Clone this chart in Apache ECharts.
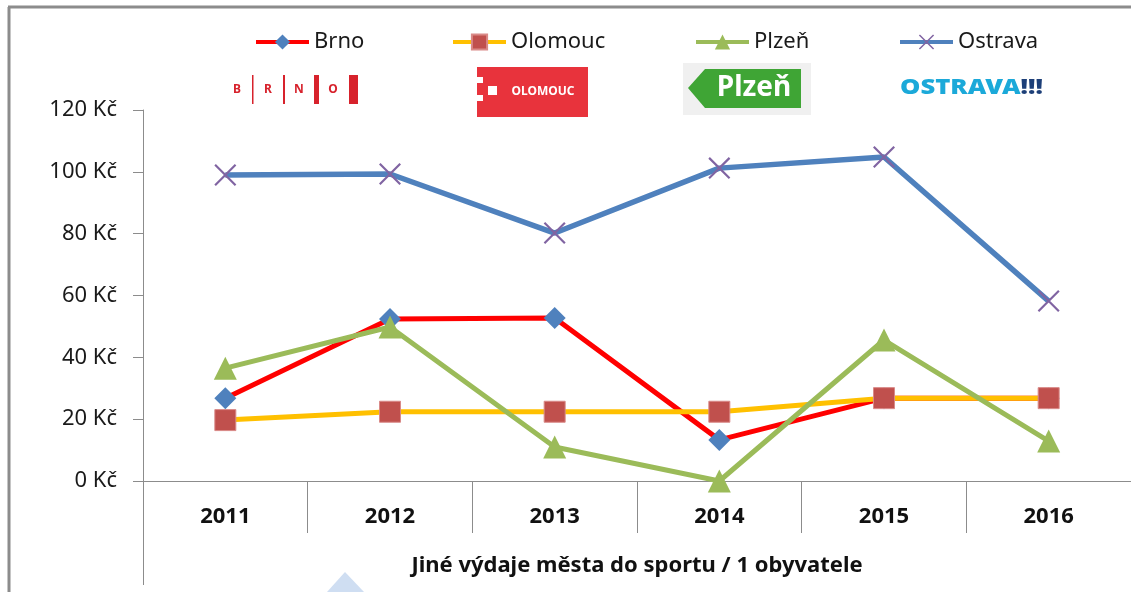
<!DOCTYPE html>
<html>
<head>
<meta charset="utf-8">
<script src="https://cdn.jsdelivr.net/npm/echarts@6/dist/echarts.min.js"></script>
<style>
  html, body { margin: 0; padding: 0; background: #fff; }
  #chart { width: 1131px; height: 592px; }
</style>
</head>
<body>
<div id="chart"></div>
<script>
  // data (Kč per inhabitant)
  var years = ['2011', '2012', '2013', '2014', '2015', '2016'];
  var brno = [26.8, 52.4, 52.7, 13.3, 26.8, 26.8];
  var olomouc = [19.7, 22.4, 22.4, 22.4, 26.8, 26.8];
  var plzen = [36.5, 49.8, 11.0, 0, 45.6, 12.9];
  var ostrava = [99.0, 99.3, 80.2, 101.2, 104.8, 58.2];
  var yTicks = { min: 0, max: 120, interval: 20 };

  var font = 'Noto Sans';
  var axisGray = '#8c8c8c';
  var crossPath = 'path://M0,0.7 L0.7,0 L10,9.3 L9.3,10 Z M9.3,0 L10,0.7 L0.7,10 L0,9.3 Z';

  var myChart = echarts.init(document.getElementById('chart'));

  function legendFor(name, left) {
    return {
      data: [name], left: left, top: 30, padding: 0,
      itemWidth: 53, itemHeight: 19, selectedMode: false,
      lineStyle: { width: 4 },
      textStyle: { fontFamily: font, fontSize: 22, color: '#1a1a1a', lineHeight: 24 }
    };
  }

  myChart.setOption({
    animation: false,
    backgroundColor: '#fff',
    legend: [
      legendFor('Brno', 254),
      legendFor('Olomouc', 451),
      legendFor('Plzeň', 694),
      legendFor('Ostrava', 898)
    ],
    grid: { left: 143, right: 0, top: 110, bottom: 111, outerBoundsMode: 'none' },
    xAxis: {
      type: 'category',
      data: years,
      boundaryGap: true,
      axisLine: { lineStyle: { color: axisGray, width: 1 } },
      axisTick: { show: true, interval: 0, length: 52, lineStyle: { color: axisGray } },
      axisLabel: { fontFamily: font, fontSize: 22, fontWeight: 'bold', color: '#111', margin: 25 },
      name: 'Jiné výdaje města do sportu / 1 obyvatele',
      nameLocation: 'middle',
      nameGap: 74,
      nameTextStyle: { fontFamily: font, fontSize: 22, fontWeight: 'bold', color: '#111' }
    },
    yAxis: {
      type: 'value',
      min: yTicks.min, max: yTicks.max, interval: yTicks.interval,
      axisLine: { show: true, lineStyle: { color: axisGray, width: 1 } },
      axisTick: { show: true, length: 10, lineStyle: { color: axisGray } },
      splitLine: { show: false },
      axisLabel: { fontFamily: font, fontSize: 22, color: '#1a1a1a', margin: 26, formatter: '{value} Kč' }
    },
    series: [
      {
        name: 'Brno', type: 'line', data: brno,
        symbol: 'diamond', symbolSize: 22,
        lineStyle: { color: '#ff0000', width: 5 },
        itemStyle: { color: '#4f81bd' }
      },
      {
        name: 'Olomouc', type: 'line', data: olomouc,
        symbol: 'rect', symbolSize: 21,
        lineStyle: { color: '#ffc000', width: 5 },
        itemStyle: { color: '#c0504d', borderColor: '#d98a88', borderWidth: 1 }
      },
      {
        name: 'Plzeň', type: 'line', data: plzen,
        symbol: 'triangle', symbolSize: 23,
        lineStyle: { color: '#9bbb59', width: 5 },
        itemStyle: { color: '#9bbb59' }
      },
      {
        name: 'Ostrava', type: 'line', data: ostrava,
        symbol: crossPath, symbolSize: 22,
        lineStyle: { color: '#4f81bd', width: 5.5 },
        itemStyle: { color: '#8064a2' }
      }
    ],
    graphic: [
      // frame of the original picture
      { type: 'line', shape: { x1: 8, y1: 7, x2: 1131, y2: 7 }, style: { stroke: '#8c8c8c', lineWidth: 3 } },
      { type: 'line', shape: { x1: 9, y1: 7, x2: 9, y2: 592 }, style: { stroke: '#8c8c8c', lineWidth: 3 } },
      // value axis runs on under the category boxes
      { type: 'line', shape: { x1: 143.5, y1: 481, x2: 143.5, y2: 585 }, style: { stroke: axisGray, lineWidth: 1 } },
      // bit of a blue shape peeking in at the bottom
      { type: 'polygon', shape: { points: [[327, 592], [345, 572], [364, 592]] }, style: { fill: '#cfdef2' } },

      // BRNO logo
      { type: 'text', x: 237, y: 90, style: { text: 'B', fill: '#d7222c', font: 'bold 12px "Noto Sans"', align: 'center', verticalAlign: 'middle' } },
      { type: 'rect', shape: { x: 252, y: 75, width: 1.5, height: 29 }, style: { fill: '#d7222c' } },
      { type: 'text', x: 268, y: 90, style: { text: 'R', fill: '#d7222c', font: 'bold 12px "Noto Sans"', align: 'center', verticalAlign: 'middle' } },
      { type: 'rect', shape: { x: 283, y: 75, width: 2, height: 29 }, style: { fill: '#d7222c' } },
      { type: 'text', x: 299, y: 90, style: { text: 'N', fill: '#d7222c', font: 'bold 12px "Noto Sans"', align: 'center', verticalAlign: 'middle' } },
      { type: 'rect', shape: { x: 314, y: 75, width: 5, height: 29 }, style: { fill: '#d7222c' } },
      { type: 'text', x: 333, y: 90, style: { text: 'O', fill: '#d7222c', font: 'bold 12px "Noto Sans"', align: 'center', verticalAlign: 'middle' } },
      { type: 'rect', shape: { x: 349, y: 75, width: 9, height: 29 }, style: { fill: '#d7222c' } },

      // OLOMOUC logo
      { type: 'rect', shape: { x: 477, y: 67, width: 111, height: 50 }, style: { fill: '#e8333c' } },
      { type: 'rect', shape: { x: 477, y: 77, width: 6, height: 6 }, style: { fill: '#fff' } },
      { type: 'rect', shape: { x: 488, y: 86, width: 9, height: 9 }, style: { fill: '#fff' } },
      { type: 'rect', shape: { x: 477, y: 95, width: 6, height: 6 }, style: { fill: '#fff' } },
      { type: 'text', x: 543, y: 92, style: { text: 'OLOMOUC', fill: '#fff', font: 'bold 12px "Noto Sans"', align: 'center', verticalAlign: 'middle' } },

      // Plzeň logo
      { type: 'rect', shape: { x: 683, y: 63, width: 128, height: 52 }, style: { fill: '#f0f0f0' } },
      { type: 'polygon', shape: { points: [[688, 88], [705, 69], [801, 69], [801, 108], [705, 108]] }, style: { fill: '#3fa535' } },
      { type: 'text', x: 754, y: 88, style: { text: 'Plzeň', fill: '#fff', font: 'bold 28px "Noto Sans"', align: 'center', verticalAlign: 'middle' } },

      // OSTRAVA!!! logo
      {
        type: 'text', x: 900, y: 88, scaleX: 1.22,
        style: {
          text: '{a|OSTRAVA}{b|!!!}', align: 'left', verticalAlign: 'middle',
          rich: {
            a: { fill: '#1ba9d9', font: '900 21px "Noto Sans"' },
            b: { fill: '#1d3f78', font: '900 21px "Noto Sans"' }
          }
        }
      }
    ]
  });
</script>
</body>
</html>
